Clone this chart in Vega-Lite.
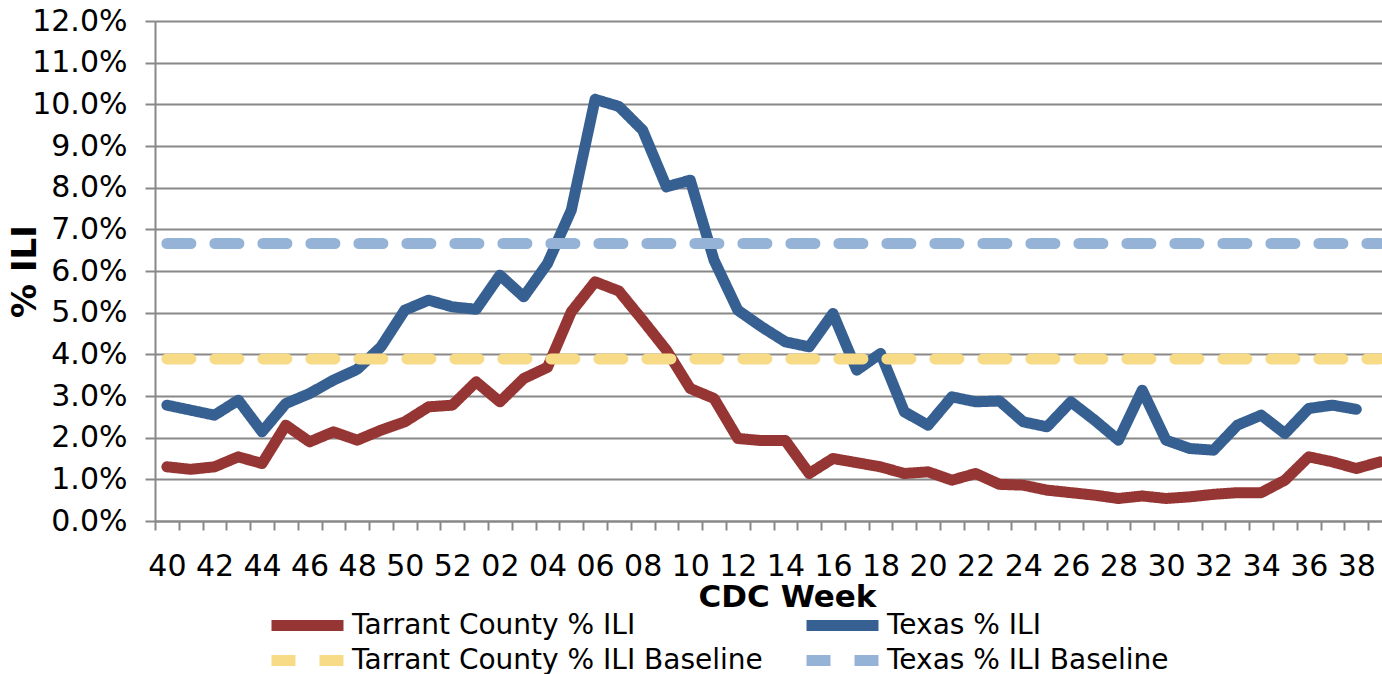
{
  "$schema": "https://vega.github.io/schema/vega-lite/v6.json",
  "width": 1237,
  "height": 500,
  "autosize": {"type": "none"},
  "padding": {"left": 155, "top": 21, "right": 0, "bottom": 153},
  "background": "white",
  "config": {"font": "DejaVu Sans", "view": {"stroke": null}},
  "data": {"values": [
    {"week": "40", "Tarrant County % ILI": 1.30, "Texas % ILI": 2.78, "Tarrant County % ILI Baseline": 3.89, "Texas % ILI Baseline": 6.66},
    {"week": "41", "Tarrant County % ILI": 1.24, "Texas % ILI": 2.66, "Tarrant County % ILI Baseline": 3.89, "Texas % ILI Baseline": 6.66},
    {"week": "42", "Tarrant County % ILI": 1.30, "Texas % ILI": 2.54, "Tarrant County % ILI Baseline": 3.89, "Texas % ILI Baseline": 6.66},
    {"week": "43", "Tarrant County % ILI": 1.54, "Texas % ILI": 2.90, "Tarrant County % ILI Baseline": 3.89, "Texas % ILI Baseline": 6.66},
    {"week": "44", "Tarrant County % ILI": 1.38, "Texas % ILI": 2.14, "Tarrant County % ILI Baseline": 3.89, "Texas % ILI Baseline": 6.66},
    {"week": "45", "Tarrant County % ILI": 2.30, "Texas % ILI": 2.82, "Tarrant County % ILI Baseline": 3.89, "Texas % ILI Baseline": 6.66},
    {"week": "46", "Tarrant County % ILI": 1.90, "Texas % ILI": 3.06, "Tarrant County % ILI Baseline": 3.89, "Texas % ILI Baseline": 6.66},
    {"week": "47", "Tarrant County % ILI": 2.14, "Texas % ILI": 3.38, "Tarrant County % ILI Baseline": 3.89, "Texas % ILI Baseline": 6.66},
    {"week": "48", "Tarrant County % ILI": 1.94, "Texas % ILI": 3.64, "Tarrant County % ILI Baseline": 3.89, "Texas % ILI Baseline": 6.66},
    {"week": "49", "Tarrant County % ILI": 2.18, "Texas % ILI": 4.18, "Tarrant County % ILI Baseline": 3.89, "Texas % ILI Baseline": 6.66},
    {"week": "50", "Tarrant County % ILI": 2.38, "Texas % ILI": 5.06, "Tarrant County % ILI Baseline": 3.89, "Texas % ILI Baseline": 6.66},
    {"week": "51", "Tarrant County % ILI": 2.74, "Texas % ILI": 5.30, "Tarrant County % ILI Baseline": 3.89, "Texas % ILI Baseline": 6.66},
    {"week": "52", "Tarrant County % ILI": 2.78, "Texas % ILI": 5.14, "Tarrant County % ILI Baseline": 3.89, "Texas % ILI Baseline": 6.66},
    {"week": "01", "Tarrant County % ILI": 3.34, "Texas % ILI": 5.08, "Tarrant County % ILI Baseline": 3.89, "Texas % ILI Baseline": 6.66},
    {"week": "02", "Tarrant County % ILI": 2.86, "Texas % ILI": 5.90, "Tarrant County % ILI Baseline": 3.89, "Texas % ILI Baseline": 6.66},
    {"week": "03", "Tarrant County % ILI": 3.42, "Texas % ILI": 5.38, "Tarrant County % ILI Baseline": 3.89, "Texas % ILI Baseline": 6.66},
    {"week": "04", "Tarrant County % ILI": 3.69, "Texas % ILI": 6.18, "Tarrant County % ILI Baseline": 3.89, "Texas % ILI Baseline": 6.66},
    {"week": "05", "Tarrant County % ILI": 5.02, "Texas % ILI": 7.46, "Tarrant County % ILI Baseline": 3.89, "Texas % ILI Baseline": 6.66},
    {"week": "06", "Tarrant County % ILI": 5.74, "Texas % ILI": 10.12, "Tarrant County % ILI Baseline": 3.89, "Texas % ILI Baseline": 6.66},
    {"week": "07", "Tarrant County % ILI": 5.52, "Texas % ILI": 9.95, "Tarrant County % ILI Baseline": 3.89, "Texas % ILI Baseline": 6.66},
    {"week": "08", "Tarrant County % ILI": 4.82, "Texas % ILI": 9.38, "Tarrant County % ILI Baseline": 3.89, "Texas % ILI Baseline": 6.66},
    {"week": "09", "Tarrant County % ILI": 4.10, "Texas % ILI": 8.02, "Tarrant County % ILI Baseline": 3.89, "Texas % ILI Baseline": 6.66},
    {"week": "10", "Tarrant County % ILI": 3.18, "Texas % ILI": 8.18, "Tarrant County % ILI Baseline": 3.89, "Texas % ILI Baseline": 6.66},
    {"week": "11", "Tarrant County % ILI": 2.94, "Texas % ILI": 6.26, "Tarrant County % ILI Baseline": 3.89, "Texas % ILI Baseline": 6.66},
    {"week": "12", "Tarrant County % ILI": 1.98, "Texas % ILI": 5.06, "Tarrant County % ILI Baseline": 3.89, "Texas % ILI Baseline": 6.66},
    {"week": "13", "Tarrant County % ILI": 1.93, "Texas % ILI": 4.66, "Tarrant County % ILI Baseline": 3.89, "Texas % ILI Baseline": 6.66},
    {"week": "14", "Tarrant County % ILI": 1.93, "Texas % ILI": 4.30, "Tarrant County % ILI Baseline": 3.89, "Texas % ILI Baseline": 6.66},
    {"week": "15", "Tarrant County % ILI": 1.14, "Texas % ILI": 4.18, "Tarrant County % ILI Baseline": 3.89, "Texas % ILI Baseline": 6.66},
    {"week": "16", "Tarrant County % ILI": 1.50, "Texas % ILI": 4.98, "Tarrant County % ILI Baseline": 3.89, "Texas % ILI Baseline": 6.66},
    {"week": "17", "Tarrant County % ILI": 1.40, "Texas % ILI": 3.62, "Tarrant County % ILI Baseline": 3.89, "Texas % ILI Baseline": 6.66},
    {"week": "18", "Tarrant County % ILI": 1.30, "Texas % ILI": 4.02, "Tarrant County % ILI Baseline": 3.89, "Texas % ILI Baseline": 6.66},
    {"week": "19", "Tarrant County % ILI": 1.14, "Texas % ILI": 2.62, "Tarrant County % ILI Baseline": 3.89, "Texas % ILI Baseline": 6.66},
    {"week": "20", "Tarrant County % ILI": 1.18, "Texas % ILI": 2.30, "Tarrant County % ILI Baseline": 3.89, "Texas % ILI Baseline": 6.66},
    {"week": "21", "Tarrant County % ILI": 0.98, "Texas % ILI": 2.98, "Tarrant County % ILI Baseline": 3.89, "Texas % ILI Baseline": 6.66},
    {"week": "22", "Tarrant County % ILI": 1.14, "Texas % ILI": 2.86, "Tarrant County % ILI Baseline": 3.89, "Texas % ILI Baseline": 6.66},
    {"week": "23", "Tarrant County % ILI": 0.88, "Texas % ILI": 2.88, "Tarrant County % ILI Baseline": 3.89, "Texas % ILI Baseline": 6.66},
    {"week": "24", "Tarrant County % ILI": 0.86, "Texas % ILI": 2.38, "Tarrant County % ILI Baseline": 3.89, "Texas % ILI Baseline": 6.66},
    {"week": "25", "Tarrant County % ILI": 0.74, "Texas % ILI": 2.26, "Tarrant County % ILI Baseline": 3.89, "Texas % ILI Baseline": 6.66},
    {"week": "26", "Tarrant County % ILI": 0.68, "Texas % ILI": 2.86, "Tarrant County % ILI Baseline": 3.89, "Texas % ILI Baseline": 6.66},
    {"week": "27", "Tarrant County % ILI": 0.62, "Texas % ILI": 2.42, "Tarrant County % ILI Baseline": 3.89, "Texas % ILI Baseline": 6.66},
    {"week": "28", "Tarrant County % ILI": 0.54, "Texas % ILI": 1.94, "Tarrant County % ILI Baseline": 3.89, "Texas % ILI Baseline": 6.66},
    {"week": "29", "Tarrant County % ILI": 0.60, "Texas % ILI": 3.14, "Tarrant County % ILI Baseline": 3.89, "Texas % ILI Baseline": 6.66},
    {"week": "30", "Tarrant County % ILI": 0.54, "Texas % ILI": 1.94, "Tarrant County % ILI Baseline": 3.89, "Texas % ILI Baseline": 6.66},
    {"week": "31", "Tarrant County % ILI": 0.58, "Texas % ILI": 1.74, "Tarrant County % ILI Baseline": 3.89, "Texas % ILI Baseline": 6.66},
    {"week": "32", "Tarrant County % ILI": 0.64, "Texas % ILI": 1.70, "Tarrant County % ILI Baseline": 3.89, "Texas % ILI Baseline": 6.66},
    {"week": "33", "Tarrant County % ILI": 0.68, "Texas % ILI": 2.30, "Tarrant County % ILI Baseline": 3.89, "Texas % ILI Baseline": 6.66},
    {"week": "34", "Tarrant County % ILI": 0.68, "Texas % ILI": 2.54, "Tarrant County % ILI Baseline": 3.89, "Texas % ILI Baseline": 6.66},
    {"week": "35", "Tarrant County % ILI": 0.98, "Texas % ILI": 2.10, "Tarrant County % ILI Baseline": 3.89, "Texas % ILI Baseline": 6.66},
    {"week": "36", "Tarrant County % ILI": 1.54, "Texas % ILI": 2.70, "Tarrant County % ILI Baseline": 3.89, "Texas % ILI Baseline": 6.66},
    {"week": "37", "Tarrant County % ILI": 1.42, "Texas % ILI": 2.78, "Tarrant County % ILI Baseline": 3.89, "Texas % ILI Baseline": 6.66},
    {"week": "38", "Tarrant County % ILI": 1.26, "Texas % ILI": 2.68, "Tarrant County % ILI Baseline": 3.89, "Texas % ILI Baseline": 6.66},
    {"week": "39", "Tarrant County % ILI": 1.42, "Texas % ILI": null, "Tarrant County % ILI Baseline": 3.89, "Texas % ILI Baseline": 6.66}
  ]},
  "transform": [
    {"fold": ["Tarrant County % ILI", "Texas % ILI", "Tarrant County % ILI Baseline", "Texas % ILI Baseline"], "as": ["series", "value"]}
  ],
  "encoding": {
    "x": {
      "field": "week", "type": "ordinal", "sort": null,
      "scale": {"type": "band", "paddingInner": 0, "paddingOuter": 0},
      "axis": {
        "title": "CDC Week", "titleFontSize": 31, "titleFontWeight": "bold", "titleColor": "black",
        "titleX": 632, "titleY": 85, "titleBaseline": "alphabetic", "titleAlign": "center",
        "labelExpr": "toNumber(datum.value) % 2 == 0 ? datum.value : ''",
        "labelAngle": 0, "labelFontSize": 30, "labelColor": "black", "labelPadding": 21,
        "labelOverlap": false, "labelFlush": false, "labelBound": false,
        "tickBand": "extent", "tickSize": 9, "tickColor": "#888888", "tickWidth": 2,
        "domainColor": "#888888", "domainWidth": 2, "grid": false
      }
    },
    "y": {
      "field": "value", "type": "quantitative",
      "scale": {"domain": [0, 12], "nice": false},
      "axis": {
        "title": "% ILI", "titleFontSize": 34, "titleFontWeight": "bold", "titleColor": "black",
        "titleAngle": -90, "titleX": -130, "titleY": 250, "titleBaseline": "middle", "titleAlign": "center",
        "values": [0, 1, 2, 3, 4, 5, 6, 7, 8, 9, 10, 11, 12],
        "labelExpr": "format(datum.value, '.1f') + '%'",
        "labelFontSize": 30, "labelColor": "black", "labelPadding": 18,
        "tickSize": 10, "tickColor": "#888888", "tickWidth": 2,
        "domainColor": "#888888", "domainWidth": 2,
        "grid": true, "gridColor": "#888888", "gridWidth": 2, "gridOpacity": 1
      }
    },
    "color": {
      "field": "series", "type": "nominal",
      "scale": {
        "domain": ["Tarrant County % ILI", "Texas % ILI", "Tarrant County % ILI Baseline", "Texas % ILI Baseline"],
        "range": ["#963634", "#376092", "#F8DB87", "#95B3D7"]
      },
      "legend": {
        "title": null, "orient": "none", "legendX": 111, "legendY": 587, "columns": 2, "direction": "horizontal",
        "symbolType": "M-1,0H6.2", "symbolSize": 400, "symbolStrokeWidth": 11, "clipHeight": 35,
        "labelFontSize": 28, "labelColor": "black", "labelOffset": 55, "labelLimit": 600,
        "columnPadding": 38, "rowPadding": 0, "padding": 0
      }
    },
    "strokeDash": {
      "field": "series", "type": "nominal",
      "scale": {
        "domain": ["Tarrant County % ILI", "Texas % ILI", "Tarrant County % ILI Baseline", "Texas % ILI Baseline"],
        "range": [[1, 0], [1, 0], [24, 24], [24, 24]]
      },
      "legend": {
        "title": null, "orient": "none", "legendX": 111, "legendY": 587, "columns": 2, "direction": "horizontal",
        "symbolType": "M-1,0H6.2", "symbolSize": 400, "symbolStrokeWidth": 11, "clipHeight": 35,
        "labelFontSize": 28, "labelColor": "black", "labelOffset": 55, "labelLimit": 600,
        "columnPadding": 38, "rowPadding": 0, "padding": 0
      }
    }
  },
  "layer": [
    {
      "transform": [{"filter": "indexof(datum.series, 'Baseline') < 0"}],
      "mark": {"type": "line", "strokeWidth": 11, "strokeCap": "round", "strokeJoin": "round"}
    },
    {
      "transform": [{"filter": "indexof(datum.series, 'Baseline') >= 0"}],
      "mark": {"type": "line", "strokeWidth": 11, "strokeCap": "round", "strokeJoin": "round"}
    }
  ]
}
